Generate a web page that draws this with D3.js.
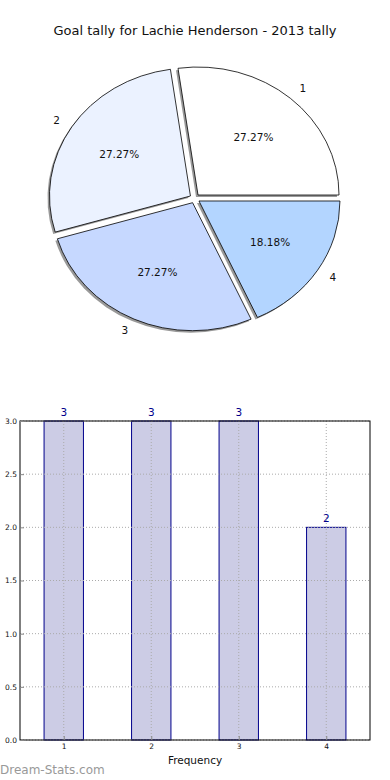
<!DOCTYPE html>
<html><head><meta charset="utf-8">
<script src="https://cdn.jsdelivr.net/npm/d3@7/dist/d3.min.js"></script>
<style>
html,body{margin:0;padding:0;background:#fff;}
svg{display:block;font-family:"DejaVu Sans",sans-serif;}
</style></head>
<body>
<svg id="c" width="390" height="780"></svg>
<script>
const title = "Goal tally for Lachie Henderson - 2013 tally";
const categories = ["1", "2", "3", "4"];
const values = [3, 3, 3, 2];
const sliceColors = ["#ffffff", "#ebf2ff", "#c6d8ff", "#b3d5ff"];
const yTicks = [0.0, 0.5, 1.0, 1.5, 2.0, 2.5, 3.0];
const xLabel = "Frequency";
const watermark = "Dream-Stats.com";

(function () {
const svg = d3.select("#c");

// ---------- Pie ----------
svg.append("text").attr("x", 195).attr("y", 34.5).attr("text-anchor", "middle")
  .attr("font-size", 13).attr("fill", "#111").text(title);

const cx = 194.7, cy = 198.5, rx = 141, ry = 128, explode = 0.036;
const total = d3.sum(values);
const pie = d3.pie().sort(null).startAngle(Math.PI / 2).endAngle(Math.PI / 2 - 2 * Math.PI);
const arcs = pie(values);
const arc = d3.arc().innerRadius(0).outerRadius(1);

function offsetOf(d) {
  const a = (d.startAngle + d.endAngle) / 2;
  return [cx + explode * rx * Math.sin(a), cy - explode * ry * Math.cos(a)];
}
const gPie = svg.append("g");
arcs.forEach((d) => {
  const [ox, oy] = offsetOf(d);
  gPie.append("path").attr("d", arc(d))
    .attr("transform", `translate(${ox - 2},${oy + 2}) scale(${rx},${ry})`)
    .attr("fill", "#000").attr("fill-opacity", 0.4);
});
arcs.forEach((d, i) => {
  const [ox, oy] = offsetOf(d);
  gPie.append("path").attr("d", arc(d))
    .attr("transform", `translate(${ox},${oy}) scale(${rx},${ry})`)
    .attr("fill", sliceColors[i]).attr("stroke", "#000").attr("stroke-width", 0.8)
    .attr("vector-effect", "non-scaling-stroke");
});
arcs.forEach((d, i) => {
  const [ox, oy] = offsetOf(d);
  const a = (d.startAngle + d.endAngle) / 2;
  const sx = Math.sin(a), sy = -Math.cos(a);
  const lx = ox + 1.1 * rx * sx, ly = oy + 1.1 * ry * sy;
  gPie.append("text").attr("x", lx).attr("y", ly).attr("dy", "0.35em")
    .attr("text-anchor", sx > 0 ? "start" : "end").attr("font-size", 10.5).attr("fill", "#111")
    .text(categories[i]);
  const px = ox + 0.6 * rx * sx, py = oy + 0.6 * ry * sy;
  gPie.append("text").attr("x", px).attr("y", py).attr("dy", "0.35em")
    .attr("text-anchor", "middle").attr("font-size", 10.5).attr("fill", "#111")
    .text((values[i] / total * 100).toFixed(2) + "%");
});

// ---------- Bars ----------
const pl = 20, pr = 370, pt = 421, pb = 740;
const x = d3.scaleLinear().domain([0.5, 4.5]).range([pl, pr]);
const y = d3.scaleLinear().domain([0, 3]).range([pb, pt]);
const gB = svg.append("g");
const barW = 0.45;

gB.selectAll("rect.bar").data(values).join("rect").attr("class", "bar")
  .attr("x", (d, i) => x(i + 1 - barW / 2)).attr("width", (d, i) => x(i + 1 + barW / 2) - x(i + 1 - barW / 2))
  .attr("y", d => y(d)).attr("height", d => y(0) - y(d))
  .attr("fill", "#ccccE5").attr("stroke", "#00008b").attr("stroke-width", 1);

gB.selectAll("line.hg").data(yTicks).join("line").attr("class", "hg")
  .attr("x1", pl).attr("x2", pr).attr("y1", d => y(d)).attr("y2", d => y(d))
  .attr("stroke", "#aaa").attr("stroke-dasharray", "1,2").attr("stroke-width", 1);
gB.selectAll("line.vg").data(categories).join("line").attr("class", "vg")
  .attr("x1", (d, i) => x(i + 1)).attr("x2", (d, i) => x(i + 1)).attr("y1", pt).attr("y2", pb)
  .attr("stroke", "#aaa").attr("stroke-dasharray", "1,2").attr("stroke-width", 1);

gB.append("rect").attr("x", pl).attr("y", pt).attr("width", pr - pl).attr("height", pb - pt)
  .attr("fill", "none").attr("stroke", "#000").attr("stroke-width", 1);

const yAxis = d3.axisLeft(y).tickValues(yTicks).tickFormat(d3.format(".1f")).tickSizeInner(-4).tickSizeOuter(0).tickPadding(3);
const ya = gB.append("g").attr("transform", `translate(${pl},0)`).call(yAxis);
ya.select(".domain").remove();
ya.selectAll("line").attr("stroke", "#888");
ya.selectAll("text").attr("font-size", 7.5).attr("fill", "#111").attr("font-family", "DejaVu Sans");
const xAxis = d3.axisBottom(x).tickValues([1, 2, 3, 4]).tickFormat((d, i) => categories[i]).tickSizeInner(-4).tickSizeOuter(0).tickPadding(4);
const xa = gB.append("g").attr("transform", `translate(0,${pb})`).call(xAxis);
xa.select(".domain").remove();
xa.selectAll("line").attr("stroke", "#888");
xa.selectAll("text").attr("font-size", 7.5).attr("fill", "#111").attr("font-family", "DejaVu Sans");

gB.selectAll("text.val").data(values).join("text").attr("class", "val")
  .attr("x", (d, i) => x(i + 1)).attr("y", d => y(d) - 5)
  .attr("text-anchor", "middle").attr("font-size", 10.5).attr("fill", "#00008b").text(d => d);

svg.append("text").attr("x", x(2.5)).attr("y", 764).attr("text-anchor", "middle")
  .attr("font-size", 10.5).attr("fill", "#111").text(xLabel);
svg.append("text").attr("x", 0).attr("y", 774).attr("font-size", 12)
  .attr("fill", "#999").text(watermark);
})();
</script>
</body></html>
